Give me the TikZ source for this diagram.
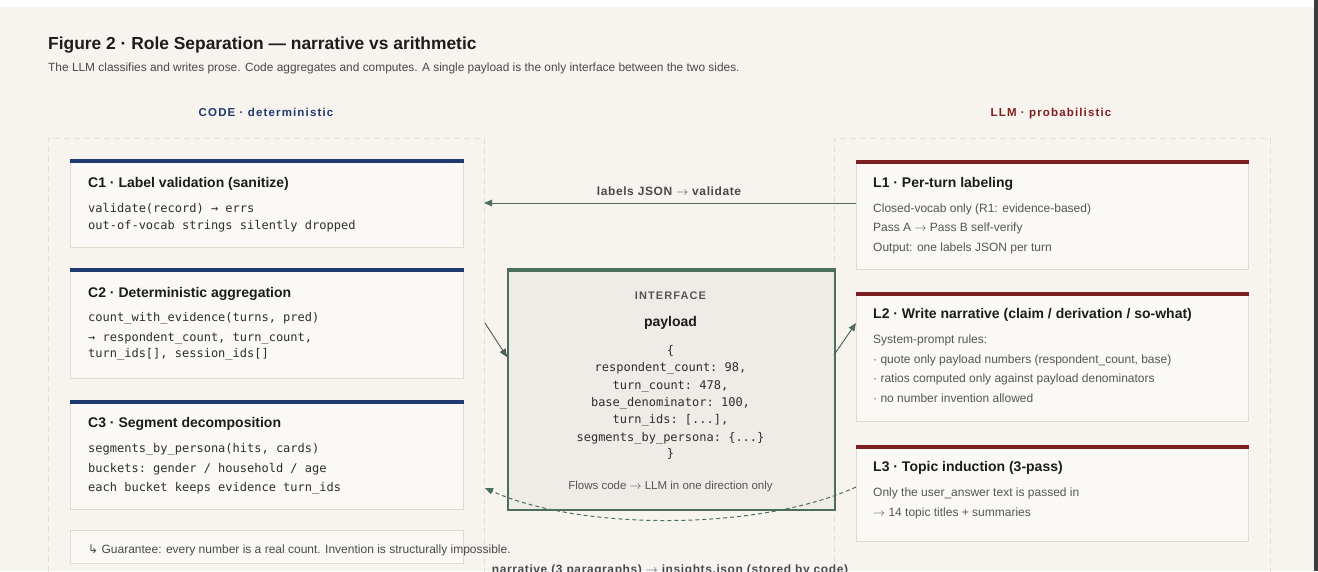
\documentclass[tikz,border=0pt]{standalone}
\usepackage{fontspec}
\setmainfont{Liberation Sans}
\setsansfont{Liberation Sans}
\setmonofont{DejaVu Sans Mono}
\newfontfamily\spacedfont[LetterSpace=10]{Liberation Sans}
\newfontfamily\lblfont[LetterSpace=5]{Liberation Sans}
\newfontfamily\djv{DejaVu Sans}
\newcommand{\rarr}{\ensuremath{\rightarrow}}
\usetikzlibrary{arrows.meta}
\definecolor{bg}{HTML}{F7F3EF}
\definecolor{darkbar}{HTML}{3C3C3C}
\definecolor{ink}{HTML}{1C1C1C}
\definecolor{subink}{HTML}{4A4A4A}
\definecolor{bodyink}{HTML}{555555}
\definecolor{monoink}{HTML}{2E2E2E}
\definecolor{navy}{HTML}{1E3A6E}
\definecolor{llmred}{HTML}{7E1F1F}
\definecolor{grn}{HTML}{4C6E5C}
\definecolor{boxfill}{HTML}{FAF9F5}
\definecolor{boxline}{HTML}{E2DBCE}
\definecolor{ifill}{HTML}{EFEBE7}
\definecolor{contline}{HTML}{E6DED5}
\tikzset{
  zone/.style={draw=contline, dashed, dash pattern=on 6pt off 4pt, line width=0.8pt, anchor=north west, inner sep=0},
  cardbox/.style={draw=boxline, fill=boxfill, line width=1pt, anchor=north west, inner sep=0},
  ttl/.style={anchor=base west, inner sep=0, font=\bfseries\fontsize{14}{16}\selectfont, text=ink},
  codeln/.style={anchor=base west, inner sep=0, font=\ttfamily\fontsize{12}{14}\selectfont, text=monoink},
  bodyln/.style={anchor=base west, inner sep=0, font=\fontsize{12}{14}\selectfont, text=bodyink},
  icode/.style={anchor=base, inner sep=0, font=\ttfamily\fontsize{12}{14}\selectfont, text=monoink},
  flow/.style={draw=grn, line width=1pt, -{Triangle[length=8pt,width=6.5pt]}},
  flowgray/.style={draw=subink, line width=0.8pt, -{Triangle[length=8pt,width=6.5pt,fill=grn]}},
  dflow/.style={draw=grn, line width=1pt, dash pattern=on 4pt off 3pt, -{Triangle[length=8pt,width=6.5pt]}},
  flowlbl/.style={anchor=base, inner sep=0, font=\lblfont\bfseries\fontsize{12}{14}\selectfont, text=subink},
}
\begin{document}
\begin{tikzpicture}[x=1pt,y=-1pt]
\useasboundingbox (0,0) rectangle (1318,571);
\fill[white] (0,0) rectangle (1318,7);
\fill[bg] (0,7) rectangle (1314,571);
\fill[darkbar] (1314,0) rectangle (1318,571);

% headings
\node[anchor=base west, inner sep=0, font=\bfseries\fontsize{17.4}{20}\selectfont, text=ink] (title) at (48,49) {Figure 2 · Role Separation — narrative vs arithmetic};
\node[anchor=base west, inner sep=0, font=\fontsize{11.9}{13}\selectfont, text=subink] (subtitle) at (48,71) {The LLM classifies and writes prose. Code aggregates and computes. A single payload is the only interface between the two sides.};
\node[anchor=base, inner sep=0, font=\spacedfont\bfseries\fontsize{11.5}{13}\selectfont, text=navy] (codehead) at (266,116) {CODE · deterministic};
\node[anchor=base, inner sep=0, font=\spacedfont\bfseries\fontsize{11.5}{13}\selectfont, text=llmred] (llmhead) at (1051,116) {LLM · probabilistic};

% zones
\node[zone, minimum width=436pt, minimum height=450pt] (codezone) at (48,138) {};
\node[zone, minimum width=436pt, minimum height=450pt] (llmzone) at (834,138) {};

% C1
\node[cardbox, minimum width=393pt, minimum height=88pt] (c1) at (70,159) {};
\fill[navy] (c1.north west) rectangle ([yshift=-4pt]c1.north east);
\node[ttl] (c1t) at (88,187) {C1 · Label validation (sanitize)};
\node[codeln] (c1a) at (88,212) {validate(record) → errs};
\node[codeln] (c1b) at (88,229) {out-of-vocab strings silently dropped};

% C2
\node[cardbox, minimum width=393pt, minimum height=110pt] (c2) at (70,268) {};
\fill[navy] (c2.north west) rectangle ([yshift=-4pt]c2.north east);
\node[ttl] (c2t) at (88,297) {C2 · Deterministic aggregation};
\node[codeln] (c2a) at (88,321) {count\_with\_evidence(turns, pred)};
\node[codeln] (c2b) at (88,341) {→ respondent\_count, turn\_count,};
\node[codeln] (c2c) at (88,357) {turn\_ids[], session\_ids[]};

% C3
\node[cardbox, minimum width=393pt, minimum height=109pt] (c3) at (70,400) {};
\fill[navy] (c3.north west) rectangle ([yshift=-4pt]c3.north east);
\node[ttl] (c3t) at (88,427) {C3 · Segment decomposition};
\node[codeln] (c3a) at (88,452) {segments\_by\_persona(hits, cards)};
\node[codeln] (c3b) at (88,472) {buckets: gender / household / age};
\node[codeln] (c3c) at (88,491) {each bucket keeps evidence turn\_ids};

% guarantee
\node[cardbox, minimum width=393pt, minimum height=33pt] (gbox) at (70,530) {};
\node[bodyln, text=subink] (gtext) at (88,553) {{\djv ↳} Guarantee: every number is a real count. Invention is structurally impossible.};

% interface
\node[draw=grn, fill=ifill, line width=1.6pt, anchor=north west, inner sep=0, minimum width=327pt, minimum height=241pt] (iface) at (507,268) {};
\fill[grn] (iface.north west) rectangle ([yshift=-4pt]iface.north east);
\node[anchor=base, inner sep=0, font=\spacedfont\bfseries\fontsize{11}{13}\selectfont, text=bodyink] (ifhead) at (670.5,299) {INTERFACE};
\node[anchor=base, inner sep=0, font=\bfseries\fontsize{14}{16}\selectfont, text=ink] (ifname) at (670.5,326) {payload};
\node[icode] (ifl1) at (670.5,354) {\{};
\node[icode] (ifl2) at (670.5,371) {respondent\_count: 98,};
\node[icode] (ifl3) at (670.5,389) {turn\_count: 478,};
\node[icode] (ifl4) at (670.5,406) {base\_denominator: 100,};
\node[icode] (ifl5) at (670.5,423) {turn\_ids: [...],};
\node[icode] (ifl6) at (670.5,441) {segments\_by\_persona: \{...\}};
\node[icode] (ifl7) at (670.5,457) {\}};
\node[anchor=base, inner sep=0, font=\fontsize{11.5}{13}\selectfont, text=bodyink] (ifnote) at (670.5,489) {Flows code \rarr{} LLM in one direction only};

% L1
\node[cardbox, minimum width=392pt, minimum height=109pt] (l1) at (856,160) {};
\fill[llmred] (l1.north west) rectangle ([yshift=-4pt]l1.north east);
\node[ttl] (l1t) at (873,187) {L1 · Per-turn labeling};
\node[bodyln] (l1a) at (873,212) {Closed-vocab only (R1: evidence-based)};
\node[bodyln] (l1b) at (873,231) {Pass A \rarr{} Pass B self-verify};
\node[bodyln] (l1c) at (873,251) {Output: one labels JSON per turn};

% L2
\node[cardbox, minimum width=392pt, minimum height=129pt] (l2) at (856,292) {};
\fill[llmred] (l2.north west) rectangle ([yshift=-4pt]l2.north east);
\node[ttl] (l2t) at (873,318) {L2 · Write narrative (claim / derivation / so-what)};
\node[bodyln] (l2a) at (873,343) {System-prompt rules:};
\node[bodyln] (l2b) at (873,363) {· quote only payload numbers (respondent\_count, base)};
\node[bodyln] (l2c) at (873,382) {· ratios computed only against payload denominators};
\node[bodyln] (l2d) at (873,402) {· no number invention allowed};

% L3
\node[cardbox, minimum width=392pt, minimum height=96pt] (l3) at (856,445) {};
\fill[llmred] (l3.north west) rectangle ([yshift=-4pt]l3.north east);
\node[ttl] (l3t) at (873,471) {L3 · Topic induction (3-pass)};
\node[bodyln] (l3a) at (873,496) {Only the user\_answer text is passed in};
\node[bodyln] (l3b) at (873,516) {\rarr{} 14 topic titles + summaries};

% connectors
\coordinate (c1in) at (484,203);
\draw[flow] (l1.west |- c1in) -- (c1in);
\node[flowlbl] (lbl1) at (669,195) {labels JSON \rarr{} validate};

\coordinate (c2out) at (485,323);
\coordinate (ifin) at (507,357);
\draw[flowgray] (c2out) -- (ifin);

\coordinate (ifout) at (834,355);
\coordinate (l2in) at (856,323);
\draw[flow] (ifout) -- (l2in);

\coordinate (l3out) at (856,487);
\coordinate (c3in) at (485,488);
\draw[dflow] (l3out) .. controls (760,531) and (580,531) .. (c3in);
\node[flowlbl] (lbl2) at (670,573) {narrative (3 paragraphs) \rarr{} insights.json (stored by code)};
\end{tikzpicture}
\end{document}
